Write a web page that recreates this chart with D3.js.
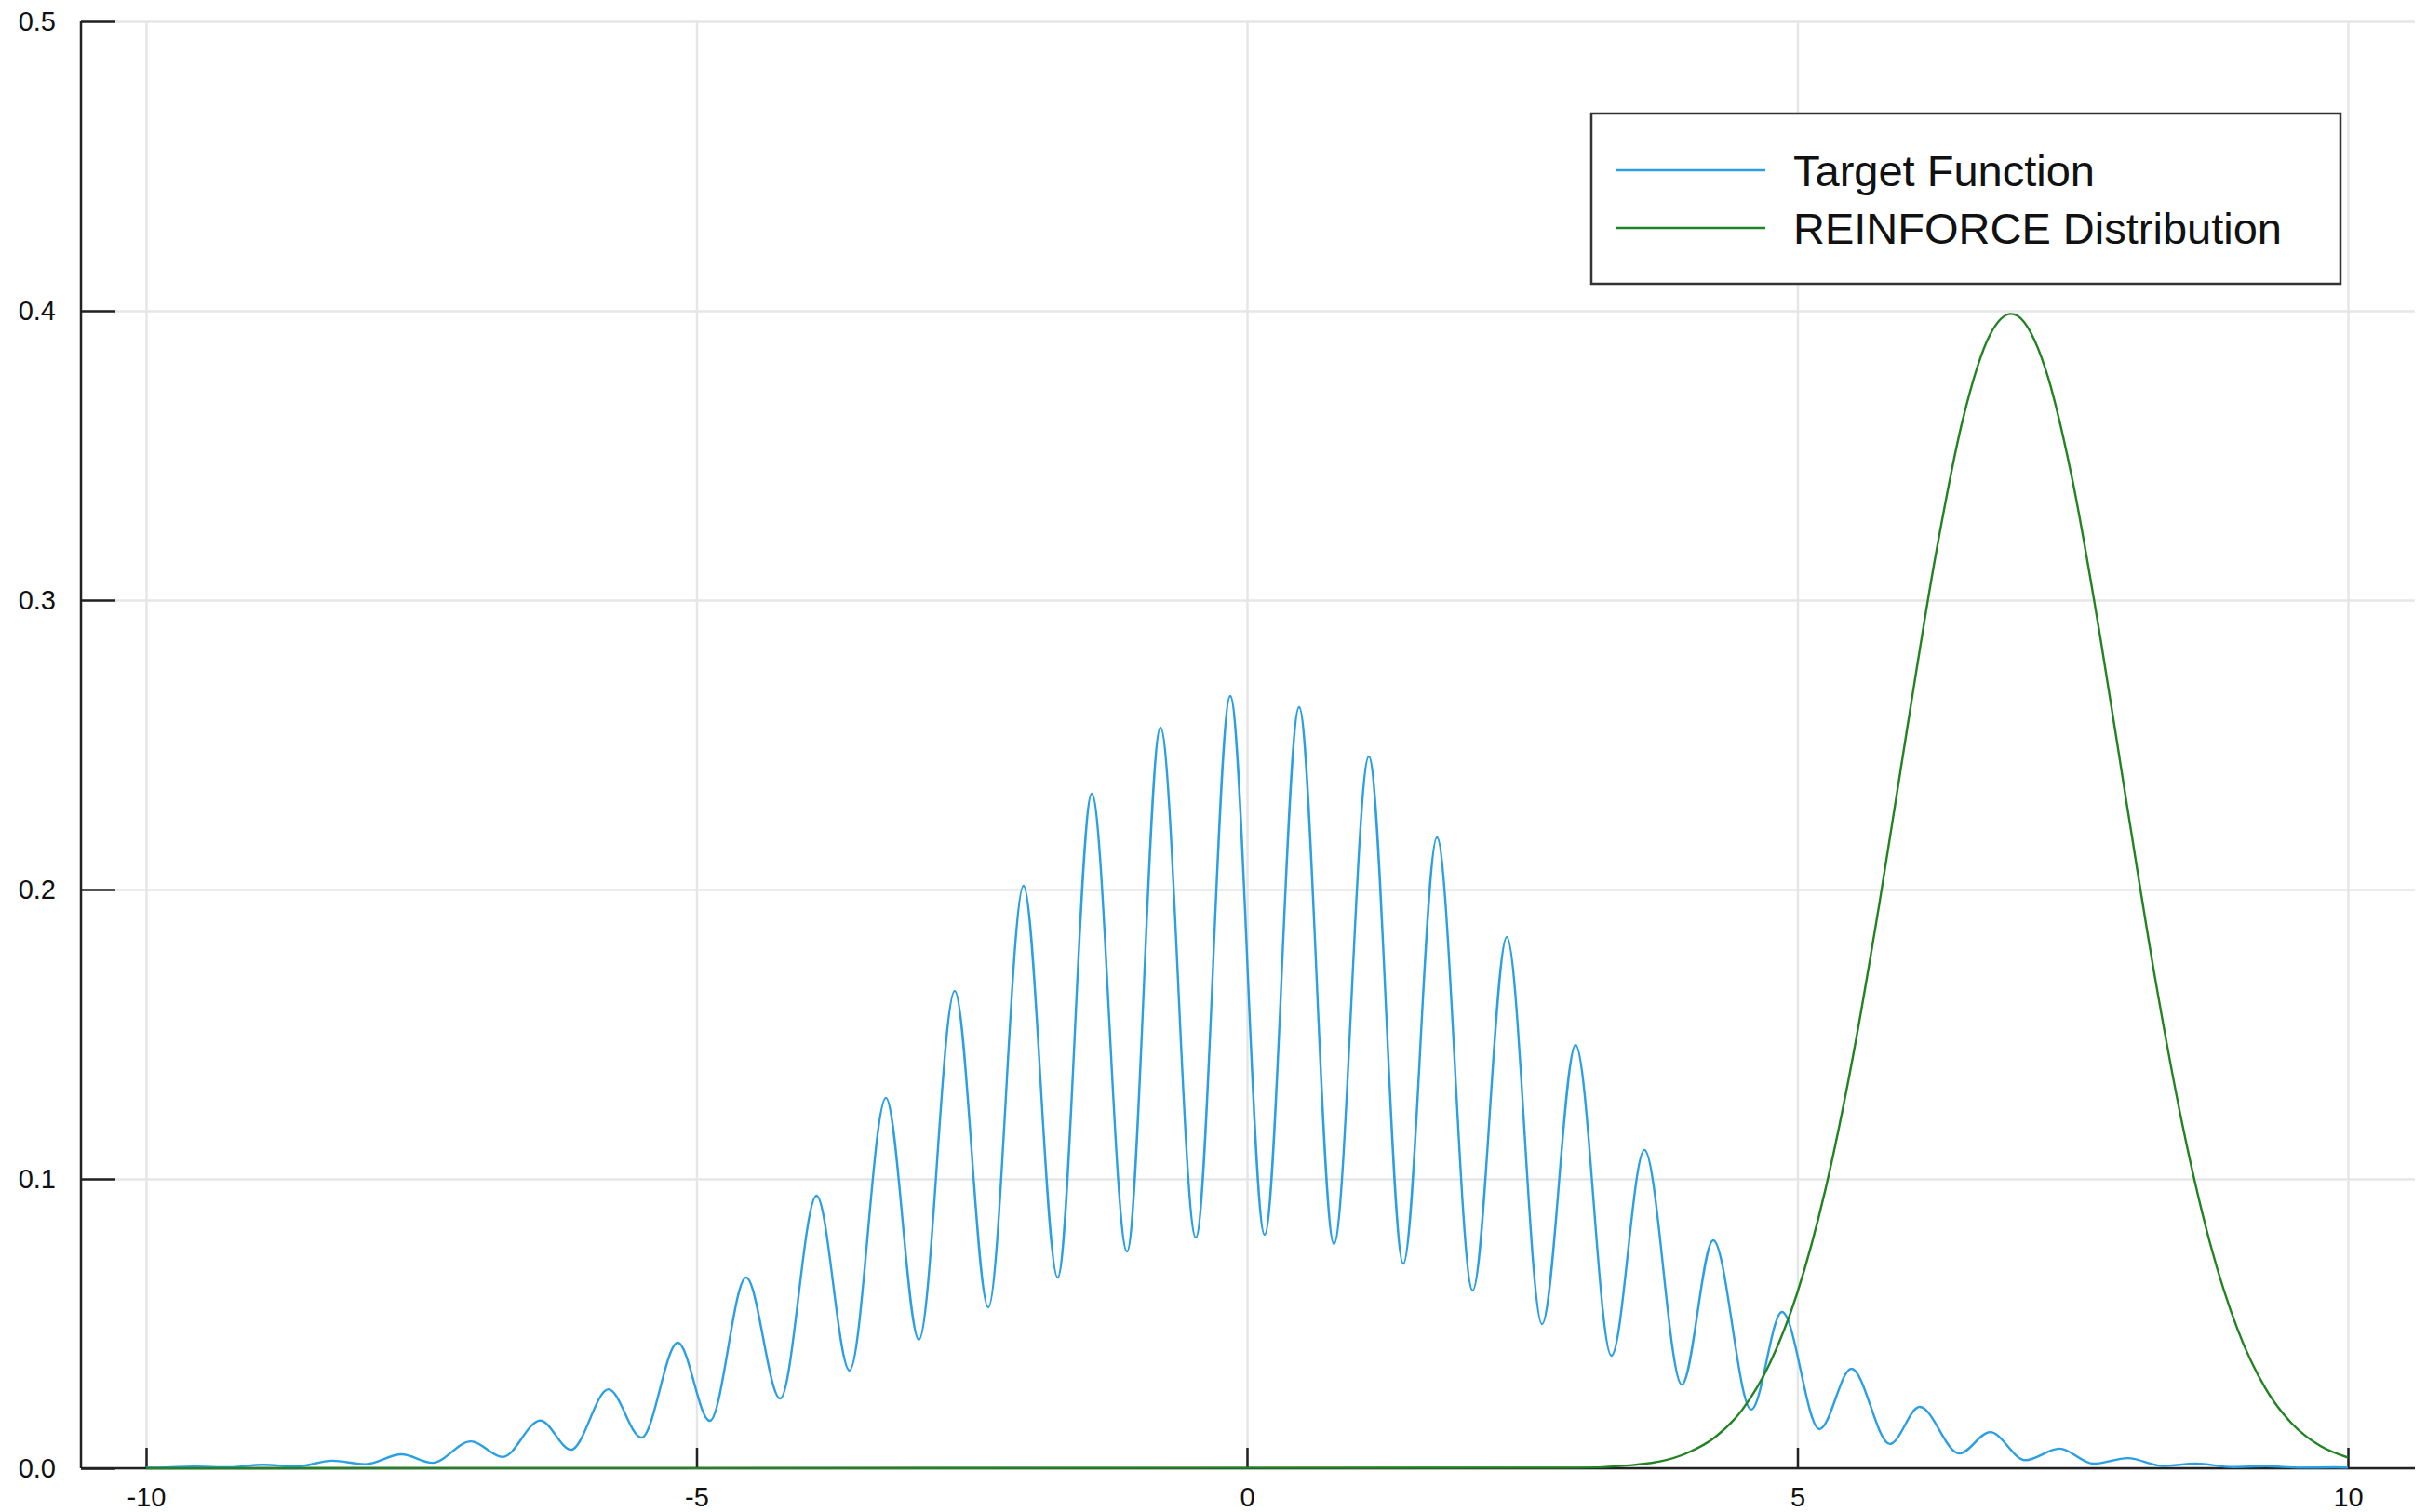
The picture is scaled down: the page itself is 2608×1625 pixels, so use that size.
<html>
<head>
  <meta charset="utf-8">
  <script src="https://d3js.org/d3.v7.min.js"></script>
  <style>
    body { margin: 0; background: #fff; }
    text { font-family: "Liberation Sans", Arial, Helvetica, sans-serif; }
    .gridlines line { stroke: #e6e6e6; stroke-width: 2.5; }
    .gridlines .domain { stroke: none; }
    .axis line { stroke: #222; stroke-width: 2.5; }
    .axis .domain { stroke: none; }
    .axis text { font-size: 29px; fill: #111; }
  </style>
</head>
<body>
<svg id="chart" width="2608" height="1625"></svg>

<script>
  // tick values
  const xTicks = [-10, -5, 0, 5, 10];
  const yTicks = [0, 0.1, 0.2, 0.3, 0.4, 0.5];

  // blue "Target Function": peaks and troughs
  const targetX = [-10, -9.88, -9.57, -9.25, -8.94, -8.63, -8.31, -8.01, -7.68, -7.40,
                   -7.05, -6.76, -6.42, -6.14, -5.80, -5.50, -5.17, -4.88, -4.55, -4.24,
                   -3.91, -3.61, -3.28, -2.98, -2.655, -2.35, -2.03, -1.72, -1.41, -1.09,
                   -0.786, -0.465, -0.152, 0.16, 0.473, 0.79, 1.107, 1.42, 1.725, 2.05,
                   2.36, 2.68, 2.985, 3.31, 3.61, 3.95, 4.235, 4.58, 4.86, 5.20,
                   5.49, 5.84, 6.11, 6.47, 6.75, 7.07, 7.38, 7.69, 8.00, 8.32,
                   8.62, 8.95, 9.25, 9.57, 9.88, 10];
  const targetY = [0.0002, 0.0002, 0.0006, 0.0003, 0.0012, 0.0006, 0.0026, 0.0014, 0.0048, 0.0019,
                   0.0093, 0.0039, 0.0165, 0.0064, 0.0273, 0.0106, 0.0434, 0.0164, 0.0659, 0.0241,
                   0.0942, 0.0338, 0.128, 0.0444, 0.165, 0.0556, 0.2013, 0.0659, 0.2331, 0.0749,
                   0.256, 0.0797, 0.2669, 0.0807, 0.263, 0.0775, 0.246, 0.0707, 0.218, 0.0614,
                   0.1836, 0.0498, 0.1463, 0.0389, 0.110, 0.0289, 0.0788, 0.0203, 0.054, 0.0135,
                   0.0344, 0.0084, 0.0212, 0.0051, 0.0125, 0.0028, 0.0068, 0.0016, 0.0035, 0.0008,
                   0.0016, 0.0004, 0.0007, 0.0002, 0.0003, 0.0002];

  // green "REINFORCE Distribution"
  const reinforceX = [-10, 3, 3.5, 4, 4.25, 4.5, 4.75, 5, 5.25, 5.5, 5.75, 6, 6.25, 6.5, 6.75,
                      6.94, 7, 7.25, 7.5, 7.75, 8, 8.25, 8.5, 8.75, 9, 9.25, 9.5, 9.75, 10];
  const reinforceY = [0, 0.0002, 0.0011, 0.0053, 0.0107, 0.0203, 0.0363, 0.0608, 0.0957, 0.1415, 0.1965,
                      0.2565, 0.3144, 0.3621, 0.3918, 0.3989, 0.3982, 0.3802, 0.3411, 0.2874, 0.2275,
                      0.1691, 0.1182, 0.0775, 0.0478, 0.0277, 0.0151, 0.0077, 0.0037];

  const seriesNames = ["Target Function", "REINFORCE Distribution"];
  const seriesColors = ["#2a9fe4", "#218321"];

  const svg = d3.select("svg#chart");
  const axisX = 87, plotTop = 23, plotBottom = 1578, plotRight = 2595;

  const x = d3.scaleLinear().domain([-10, 10]).range([157, 2523]);
  const y = d3.scaleLinear().domain([0, 0.5]).range([plotBottom, plotTop]);

  svg.append("rect").attr("width", 2608).attr("height", 1625).attr("fill", "#fff");

  // gridlines
  svg.append("g")
    .attr("class", "gridlines")
    .attr("transform", "translate(0," + plotBottom + ")")
    .call(d3.axisBottom(x).tickValues(xTicks).tickSize(-(plotBottom - plotTop)).tickFormat(""));
  svg.append("g")
    .attr("class", "gridlines")
    .attr("transform", "translate(" + axisX + ",0)")
    .call(d3.axisLeft(y).tickValues(yTicks).tickSize(-(plotRight - axisX)).tickFormat(""));

  // axes (plain hyphen for negatives, like the original)
  svg.append("g")
    .attr("class", "axis")
    .attr("transform", "translate(0," + plotBottom + ")")
    .call(d3.axisBottom(x).tickValues(xTicks).tickSize(-22).tickSizeOuter(0).tickPadding(20).tickFormat(d => String(d)));
  svg.append("g")
    .attr("class", "axis")
    .attr("transform", "translate(" + axisX + ",0)")
    .call(d3.axisLeft(y).tickValues(yTicks).tickSize(-37).tickSizeOuter(0).tickPadding(27).tickFormat(d => d.toFixed(1)));

  svg.append("line").attr("x1", axisX).attr("x2", plotRight).attr("y1", plotBottom).attr("y2", plotBottom)
    .attr("stroke", "#222").attr("stroke-width", 2.5);
  svg.append("line").attr("x1", axisX).attr("x2", axisX).attr("y1", plotTop).attr("y2", plotBottom)
    .attr("stroke", "#222").attr("stroke-width", 2.5);

  // curves
  const line = d3.line()
    .x(d => x(d[0]))
    .y(d => y(d[1]))
    .curve(d3.curveMonotoneX);

  const series = [d3.zip(targetX, targetY), d3.zip(reinforceX, reinforceY)];

  svg.append("g").selectAll("path.series").data(series)
    .join("path")
    .attr("class", "series")
    .attr("d", line)
    .attr("fill", "none")
    .attr("stroke", (d, i) => seriesColors[i])
    .attr("stroke-width", 2.4);

  // legend
  let legend = svg.append("g").attr("id", "legend");
  legend.append("rect")
    .attr("x", 1710).attr("y", 122).attr("width", 805).attr("height", 183)
    .attr("fill", "#fff").attr("stroke", "#333").attr("stroke-width", 2.5);

  seriesNames.forEach((name, i) => {
    const ly = 183 + i * 62;
    legend.append("line")
      .attr("x1", 1737).attr("x2", 1897).attr("y1", ly).attr("y2", ly)
      .attr("stroke", seriesColors[i]).attr("stroke-width", 2.5);
    legend.append("text")
      .attr("x", 1927).attr("y", ly + 17)
      .attr("font-size", 47)
      .attr("fill", "#111")
      .text(name);
  });
</script>
</body>
</html>
